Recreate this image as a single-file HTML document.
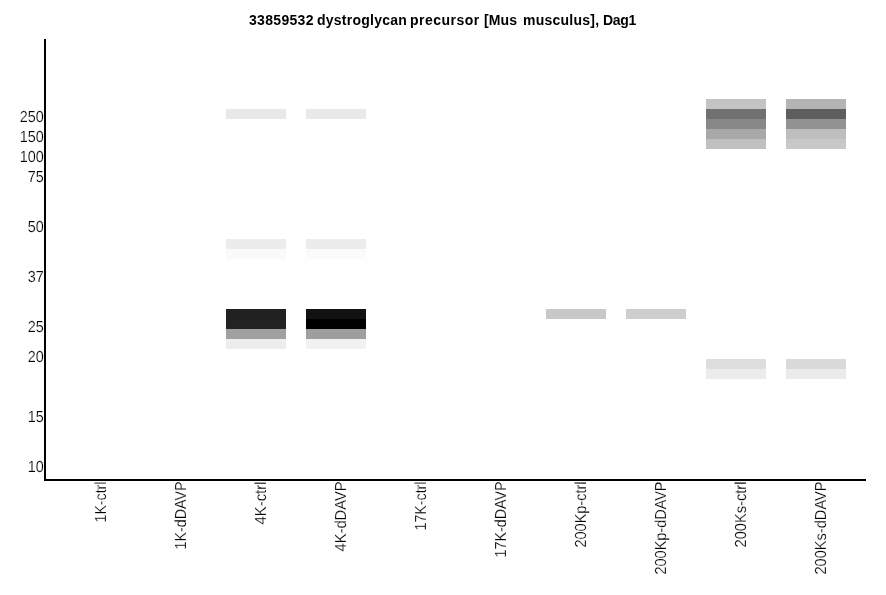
<!DOCTYPE html>
<html lang="en">
<head>
<meta charset="utf-8">
<title>33859532 dystroglycan precursor [Mus musculus], Dag1</title>
<style>
html,body{margin:0;padding:0;background:#fff;}
svg{display:block;}
text{font-family:"Liberation Sans",sans-serif;fill:#000;}
.t{font-size:14px;font-weight:bold;}
.y{font-size:16px;text-anchor:end;stroke:#fff;stroke-width:0.2px;}
.x{font-size:16px;text-anchor:end;stroke:#fff;stroke-width:0.2px;}
</style>
</head>
<body>
<svg width="886" height="595" viewBox="0 0 886 595">
<rect x="0" y="0" width="886" height="595" fill="#ffffff"/>
<g shape-rendering="crispEdges">
<rect x="226" y="109" width="60" height="10" fill="#e8e8e8"/>
<rect x="226" y="239" width="60" height="10" fill="#ececec"/>
<rect x="226" y="249" width="60" height="10" fill="#fafafa"/>
<rect x="226" y="309" width="60" height="10" fill="#212121"/>
<rect x="226" y="319" width="60" height="10" fill="#222222"/>
<rect x="226" y="329" width="60" height="10" fill="#a0a0a0"/>
<rect x="226" y="339" width="60" height="10" fill="#ededed"/>
<rect x="306" y="109" width="60" height="10" fill="#e9e9e9"/>
<rect x="306" y="239" width="60" height="10" fill="#ececec"/>
<rect x="306" y="249" width="60" height="10" fill="#fafbfb"/>
<rect x="306" y="309" width="60" height="10" fill="#121212"/>
<rect x="306" y="319" width="60" height="10" fill="#000000"/>
<rect x="306" y="329" width="60" height="10" fill="#9e9e9e"/>
<rect x="306" y="339" width="60" height="10" fill="#f1f1f1"/>
<rect x="546" y="309" width="60" height="10" fill="#c8c8c8"/>
<rect x="626" y="309" width="60" height="10" fill="#cecece"/>
<rect x="706" y="99" width="60" height="10" fill="#c4c4c4"/>
<rect x="706" y="109" width="60" height="10" fill="#707070"/>
<rect x="706" y="119" width="60" height="10" fill="#888888"/>
<rect x="706" y="129" width="60" height="10" fill="#a8a8a8"/>
<rect x="706" y="139" width="60" height="10" fill="#c0c0c0"/>
<rect x="706" y="359" width="60" height="10" fill="#dedede"/>
<rect x="706" y="369" width="60" height="10" fill="#ececec"/>
<rect x="786" y="99" width="60" height="10" fill="#b4b4b4"/>
<rect x="786" y="109" width="60" height="10" fill="#5e5e5e"/>
<rect x="786" y="119" width="60" height="10" fill="#929292"/>
<rect x="786" y="129" width="60" height="10" fill="#bebebe"/>
<rect x="786" y="139" width="60" height="10" fill="#c8c8c8"/>
<rect x="786" y="359" width="60" height="10" fill="#dadada"/>
<rect x="786" y="369" width="60" height="10" fill="#ebebeb"/>
<rect x="44" y="39" width="2" height="442" fill="#000"/>
<rect x="44" y="479" width="822" height="2" fill="#000"/>
</g>
<g>
<text class="t" y="25"><tspan x="249" textLength="64.5" lengthAdjust="spacing">33859532</tspan> <tspan x="317" textLength="89.8" lengthAdjust="spacing">dystroglycan</tspan> <tspan x="410" textLength="69.3" lengthAdjust="spacing">precursor</tspan> <tspan x="484" textLength="33" lengthAdjust="spacing">[Mus</tspan> <tspan x="523" textLength="76.1" lengthAdjust="spacing">musculus],</tspan> <tspan x="603" textLength="33.2" lengthAdjust="spacing">Dag1</tspan></text>
<text class="y" transform="translate(43.7,122) scale(0.9,1) skewX(0.05)">250</text>
<text class="y" transform="translate(43.7,142) scale(0.9,1) skewX(0.05)">150</text>
<text class="y" transform="translate(43.7,162) scale(0.9,1) skewX(0.05)">100</text>
<text class="y" transform="translate(43.7,182) scale(0.9,1) skewX(0.05)">75</text>
<text class="y" transform="translate(43.7,232) scale(0.9,1) skewX(0.05)">50</text>
<text class="y" transform="translate(43.7,282) scale(0.9,1) skewX(0.05)">37</text>
<text class="y" transform="translate(43.7,332) scale(0.9,1) skewX(0.05)">25</text>
<text class="y" transform="translate(43.7,362) scale(0.9,1) skewX(0.05)">20</text>
<text class="y" transform="translate(43.7,422) scale(0.9,1) skewX(0.05)">15</text>
<text class="y" transform="translate(43.7,472) scale(0.9,1) skewX(0.05)">10</text>
<text class="x" transform="translate(106,481.5) rotate(-90) skewX(0.05)" textLength="41" lengthAdjust="spacingAndGlyphs">1K-ctrl</text>
<text class="x" transform="translate(186,481.5) rotate(-90) skewX(0.05)" textLength="68" lengthAdjust="spacingAndGlyphs">1K-dDAVP</text>
<text class="x" transform="translate(266,481.5) rotate(-90) skewX(0.05)" textLength="43" lengthAdjust="spacingAndGlyphs">4K-ctrl</text>
<text class="x" transform="translate(346,481.5) rotate(-90) skewX(0.05)" textLength="70" lengthAdjust="spacingAndGlyphs">4K-dDAVP</text>
<text class="x" transform="translate(426,481.5) rotate(-90) skewX(0.05)" textLength="49" lengthAdjust="spacingAndGlyphs">17K-ctrl</text>
<text class="x" transform="translate(506,481.5) rotate(-90) skewX(0.05)" textLength="76" lengthAdjust="spacingAndGlyphs">17K-dDAVP</text>
<text class="x" transform="translate(586,481.5) rotate(-90) skewX(0.05)" textLength="66" lengthAdjust="spacingAndGlyphs">200Kp-ctrl</text>
<text class="x" transform="translate(666,481.5) rotate(-90) skewX(0.05)" textLength="93" lengthAdjust="spacingAndGlyphs">200Kp-dDAVP</text>
<text class="x" transform="translate(746,481.5) rotate(-90) skewX(0.05)" textLength="66" lengthAdjust="spacingAndGlyphs">200Ks-ctrl</text>
<text class="x" transform="translate(826,481.5) rotate(-90) skewX(0.05)" textLength="93" lengthAdjust="spacingAndGlyphs">200Ks-dDAVP</text>
</g>
</svg>
</body>
</html>
